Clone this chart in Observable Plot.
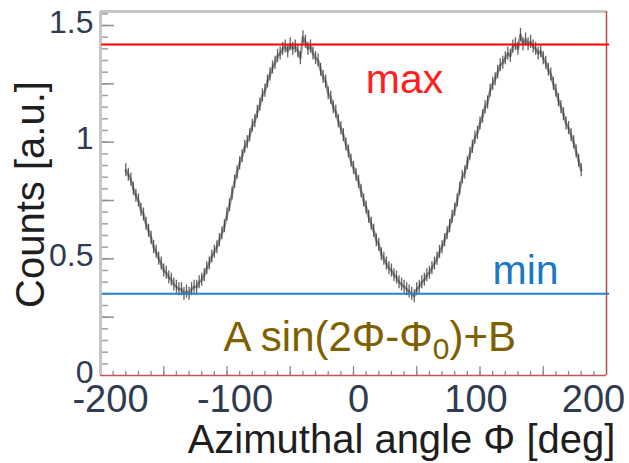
<!DOCTYPE html>
<html><head><meta charset="utf-8">
<script src="https://cdn.jsdelivr.net/npm/d3@7"></script>
<script src="https://cdn.jsdelivr.net/npm/@observablehq/plot@0.6"></script>
<style>
html,body{margin:0;padding:0;background:#fff;}
#chart svg{display:block;}
</style></head><body><div id="chart"></div>
<script>
// Azimuthal angle Φ [deg] (bin centres)
const phi = [-180,-178,-176,-174,-172,-170,-168,-166,-164,-162,-160,-158,-156,-154,-152,-150,-148,-146,-144,-142,-140,-138,-136,-134,-132,-130,-128,-126,-124,-122,-120,-118,-116,-114,-112,-110,-108,-106,-104,-102,-100,-98,-96,-94,-92,-90,-88,-86,-84,-82,-80,-78,-76,-74,-72,-70,-68,-66,-64,-62,-60,-58,-56,-54,-52,-50,-48,-46,-44,-42,-40,-38,-36,-34,-32,-30,-28,-26,-24,-22,-20,-18,-16,-14,-12,-10,-8,-6,-4,-2,0,2,4,6,8,10,12,14,16,18,20,22,24,26,28,30,32,34,36,38,40,42,44,46,48,50,52,54,56,58,60,62,64,66,68,70,72,74,76,78,80,82,84,86,88,90,92,94,96,98,100,102,104,106,108,110,112,114,116,118,120,122,124,126,128,130,132,134,136,138,140,142,144,146,148,150,152,154,156,158,160,162,164,166,168,170,172,174,176,178,180];
// Counts [a.u.]
const counts = [0.88,0.86,0.84,0.80,0.77,0.75,0.71,0.69,0.65,0.62,0.59,0.55,0.53,0.50,0.48,0.45,0.44,0.42,0.41,0.39,0.38,0.37,0.37,0.35,0.36,0.35,0.37,0.38,0.38,0.40,0.41,0.43,0.46,0.48,0.51,0.53,0.55,0.58,0.61,0.64,0.69,0.73,0.78,0.83,0.87,0.91,0.94,0.98,1.00,1.03,1.07,1.09,1.13,1.16,1.20,1.22,1.26,1.29,1.32,1.34,1.37,1.38,1.40,1.41,1.39,1.42,1.40,1.41,1.39,1.36,1.45,1.43,1.40,1.41,1.38,1.36,1.35,1.31,1.28,1.26,1.21,1.19,1.15,1.13,1.09,1.06,1.03,0.99,0.96,0.92,0.89,0.86,0.83,0.79,0.75,0.72,0.68,0.65,0.62,0.58,0.56,0.52,0.50,0.48,0.46,0.45,0.43,0.42,0.40,0.39,0.38,0.37,0.36,0.35,0.34,0.37,0.38,0.40,0.41,0.43,0.44,0.46,0.48,0.50,0.53,0.55,0.58,0.61,0.64,0.68,0.71,0.75,0.80,0.85,0.87,0.91,0.95,0.98,1.02,1.04,1.08,1.11,1.15,1.17,1.22,1.25,1.27,1.30,1.33,1.34,1.36,1.38,1.37,1.41,1.42,1.40,1.46,1.42,1.44,1.42,1.43,1.41,1.40,1.38,1.39,1.36,1.34,1.31,1.29,1.25,1.22,1.18,1.15,1.12,1.08,1.06,1.03,1.00,0.96,0.92,0.88];
const ERR = 0.028;             // half length of the error bars
const maxLevel = 1.419;        // "max" line
const minLevel = 0.350;        // "min" line
const xTickLabels = [-200, -100, 0, 100, 200];
const yTickLabels = [0, 0.5, 1, 1.5];
const xMinorTicks = d3.range(-190, 200, 10);
const xMajorTicks = [-150, -100, -50, 0, 50, 100, 150];
const yMinorTicks = d3.range(0.05, 1.56, 0.05);
const yMajorTicks = [0.25, 0.5, 0.75, 1, 1.25, 1.5];

const data = phi.map((p, i) => ({phi: p, c: counts[i]}));

const W = 629, H = 463;
const mL = 100, mR = 23, mT = 11, mB = 88;
const fw = W - mL - mR, fh = H - mT - mB;
const font = "'Liberation Sans', Arial, Helvetica, sans-serif";

// small horizontal nudges of the x tick labels, as placed in the original
const xLabelShift = [10, 8, 5, -4, -13];
const xAxes = xTickLabels.map((t, i) => Plot.axisX({
  ticks: [t], tickSize: 0, tickPadding: 10, dx: xLabelShift[i], fontSize: 38,
  color: "#2f3b4f", tickFormat: d => String(d), label: null
}));

const plot = Plot.plot({
  width: W, height: H,
  marginLeft: mL, marginRight: mR, marginTop: mT, marginBottom: mB,
  style: {fontFamily: font, background: "#fff", overflow: "visible"},
  x: {domain: [-200, 200]},
  y: {domain: [0, 1.56]},
  marks: [
    // inner tick marks
    Plot.ruleX(xMinorTicks, {stroke: "#8c8c8c", strokeWidth: 1.3, insetTop: fh - 4}),
    Plot.ruleX(xMajorTicks, {stroke: "#8c8c8c", strokeWidth: 1.3, insetTop: fh - 9}),
    Plot.ruleY(yMinorTicks, {stroke: "#a0a0a0", strokeWidth: 1.5, insetRight: fw - 8}),
    Plot.ruleY(yMajorTicks, {stroke: "#909090", strokeWidth: 1.5, insetRight: fw - 14}),
    // frame
    Plot.ruleX([-200], {stroke: "#c6c6c6", strokeWidth: 3}),
    Plot.ruleY([1.56], {stroke: "#c6c6c6", strokeWidth: 3}),
    Plot.ruleX([200], {stroke: "#b44a4a", strokeWidth: 1.5}),
    Plot.ruleY([0], {stroke: "#c05656", strokeWidth: 1.5}),
    // data
    Plot.line(data, {x: "phi", y: "c", stroke: "#444", strokeWidth: 2.6, strokeOpacity: 0.55}),
    Plot.ruleX(data, {x: "phi", y1: d => d.c - ERR, y2: d => d.c + ERR, stroke: "#2e2e2e", strokeWidth: 1.3, strokeOpacity: 0.75}),
    // levels
    Plot.ruleY([maxLevel], {x1: -199, x2: 202.5, stroke: "#ff0000", strokeWidth: 2}),
    Plot.ruleY([minLevel], {x1: -198.5, x2: 202.5, stroke: "#2a80c8", strokeWidth: 2}),
    // annotations
    Plot.text(["max"], {x: 40.3, y: 1.209, lineAnchor: "bottom", fontSize: 41, fill: "#ff1f1f"}),
    Plot.text(["min"], {x: 136, y: 0.394, lineAnchor: "bottom", fontSize: 41, fill: "#1c78c4"}),
    Plot.text(["A sin(2Φ-Φ0)+B"], {x: -102.8, y: 0.107, lineAnchor: "bottom", textAnchor: "start", fontSize: 42, fill: "#7f6000"}),
    // axes
    ...xAxes,
    Plot.axisY({ticks: yTickLabels, tickSize: 0, tickPadding: 7, dy: -3, fontSize: 32, color: "#2f3b4f", tickFormat: d => String(d), label: null}),
    // axis titles
    Plot.text(["Azimuthal angle Φ [deg]"], {frameAnchor: "bottom", textAnchor: "middle", dx: 48, dy: 77, lineAnchor: "bottom", fontSize: 40, fill: "#1e1e1e"}),
    Plot.text(["Counts [a.u.]"], {frameAnchor: "left", textAnchor: "middle", dx: -57, dy: 1, rotate: -90, lineAnchor: "bottom", fontSize: 40, fill: "#1e1e1e"})
  ]
});

// subscript in the formula
d3.select(plot).selectAll("text").each(function () {
  if (this.textContent === "A sin(2Φ-Φ0)+B") {
    const t = d3.select(this);
    t.text(null);
    t.append("tspan").text("A sin(2Φ-Φ");
    t.append("tspan").attr("font-size", 30).attr("dy", 8).text("0");
    t.append("tspan").attr("dy", -8).text(")+B");
  }
});

document.getElementById("chart").appendChild(plot);
</script>
</body></html>
